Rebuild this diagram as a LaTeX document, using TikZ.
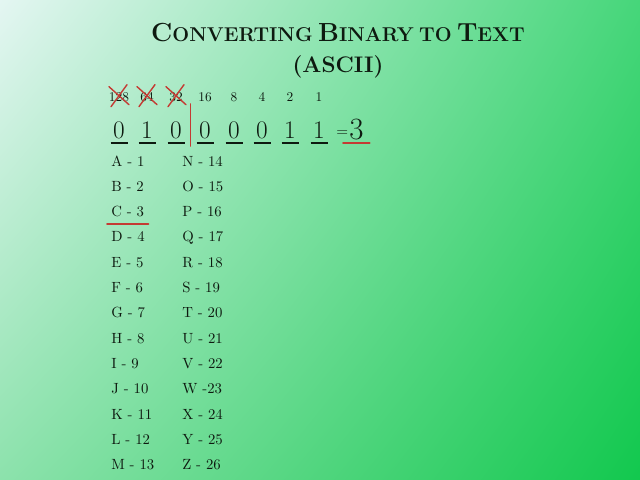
\documentclass[tikz,border=0pt]{standalone}
\usepackage{tikz}
\usetikzlibrary{positioning,calc,shadings}
\definecolor{inkdark}{HTML}{0E1A10}
\definecolor{markred}{HTML}{C43A33}
\definecolor{bgtl}{RGB}{228,246,242}
\definecolor{bgtr}{RGB}{70,214,122}
\definecolor{bgbl}{RGB}{140,226,172}
\definecolor{bgbr}{RGB}{18,200,78}
\newcommand{\capsc}[2]{{\fontsize{18.6}{20}\selectfont #1}{\fontsize{14.2}{16}\selectfont #2}}

\begin{document}
\begin{tikzpicture}[
  x=0.025cm,y=-0.025cm,
  every node/.style={text=inkdark,inner sep=0pt},
  heading/.style={font=\bfseries,align=center},
  pow/.style={font=\fontsize{9.5}{11}\selectfont,anchor=base},
  bit/.style={font=\fontsize{18}{20}\selectfont,anchor=base},
  entry/.style={font=\fontsize{10.5}{12}\selectfont,anchor=base west},
  uline/.style={draw=inkdark,line width=0.9pt},
  redmark/.style={draw=markred,line width=1.3pt,line cap=round}
]
\shade[upper left=bgtl,upper right=bgtr,lower left=bgbl,lower right=bgbr]
  (0,0) rectangle (640,480);
\useasboundingbox (0,0) rectangle (640,480);

% title
\node[heading,anchor=base] (title) at (338,42)
  {\capsc{C}{ONVERTING} \capsc{B}{INARY} \capsc{}{TO} \capsc{T}{EXT}};
\node[heading,anchor=base,font=\fontsize{16}{18}\selectfont\bfseries] (ascii) at (338,72) {(ASCII)};

% place values and bits
\foreach \val/\b/\x [count=\i] in {128/0/119,64/1/147,32/0/176,16/0/205,8/0/234,4/0/262,2/1/290,1/1/319}{
  \node[pow] (p\i) at (\x,101) {\val};
  \node[bit] (bit\i) at (\x,138) {\b};
  \draw[uline] ($(bit\i.base)+(-8.5,5)$) -- ($(bit\i.base)+(8.5,5)$);
}
\node[bit,anchor=base west,font=\fontsize{11}{12}\selectfont] (eq) at (336,136) {=};
\node[bit,anchor=base west,font=\fontsize{22}{24}\selectfont] (res) at (349,139) {3};
\draw[redmark] (343,143) -- ($(res.base east)+(6,4)$);

% crossed out place values
\foreach \i in {1,2,3}{
  \draw[redmark,line width=1pt] ($(p\i)+(-10,-10)$) -- ($(p\i)+(10,8)$);
  \draw[redmark,line width=1pt] ($(p\i)+(8,-12)$) -- ($(p\i)+(-8,10)$);
}
\coordinate (split) at ($(bit3.base)!0.5!(bit4.base)$);
\draw[redmark,line width=1.2pt] ($(split)+(0,-34)$) -- ($(split)+(0,8)$);

% letter table
\foreach \txt [count=\i] in {A - 1,B - 2,C - 3,D - 4,E - 5,F - 6,G - 7,H - 8,I - 9,J - 10,K - 11,L - 12,M - 13}{
  \node[entry] (la\i) at (111,166+25.3*\i-25.3) {\txt};
}
\foreach \txt [count=\i] in {N - 14,O - 15,P - 16,Q - 17,R - 18,S - 19,T - 20,U - 21,V - 22,W -23,X - 24,Y - 25,Z - 26}{
  \node[entry] (lb\i) at (182,166+25.3*\i-25.3) {\txt};
}
\draw[redmark] ($(la3.base west)+(-4,7)$) -- ($(la3.base east)+(4,7)$);
\end{tikzpicture}
\end{document}
